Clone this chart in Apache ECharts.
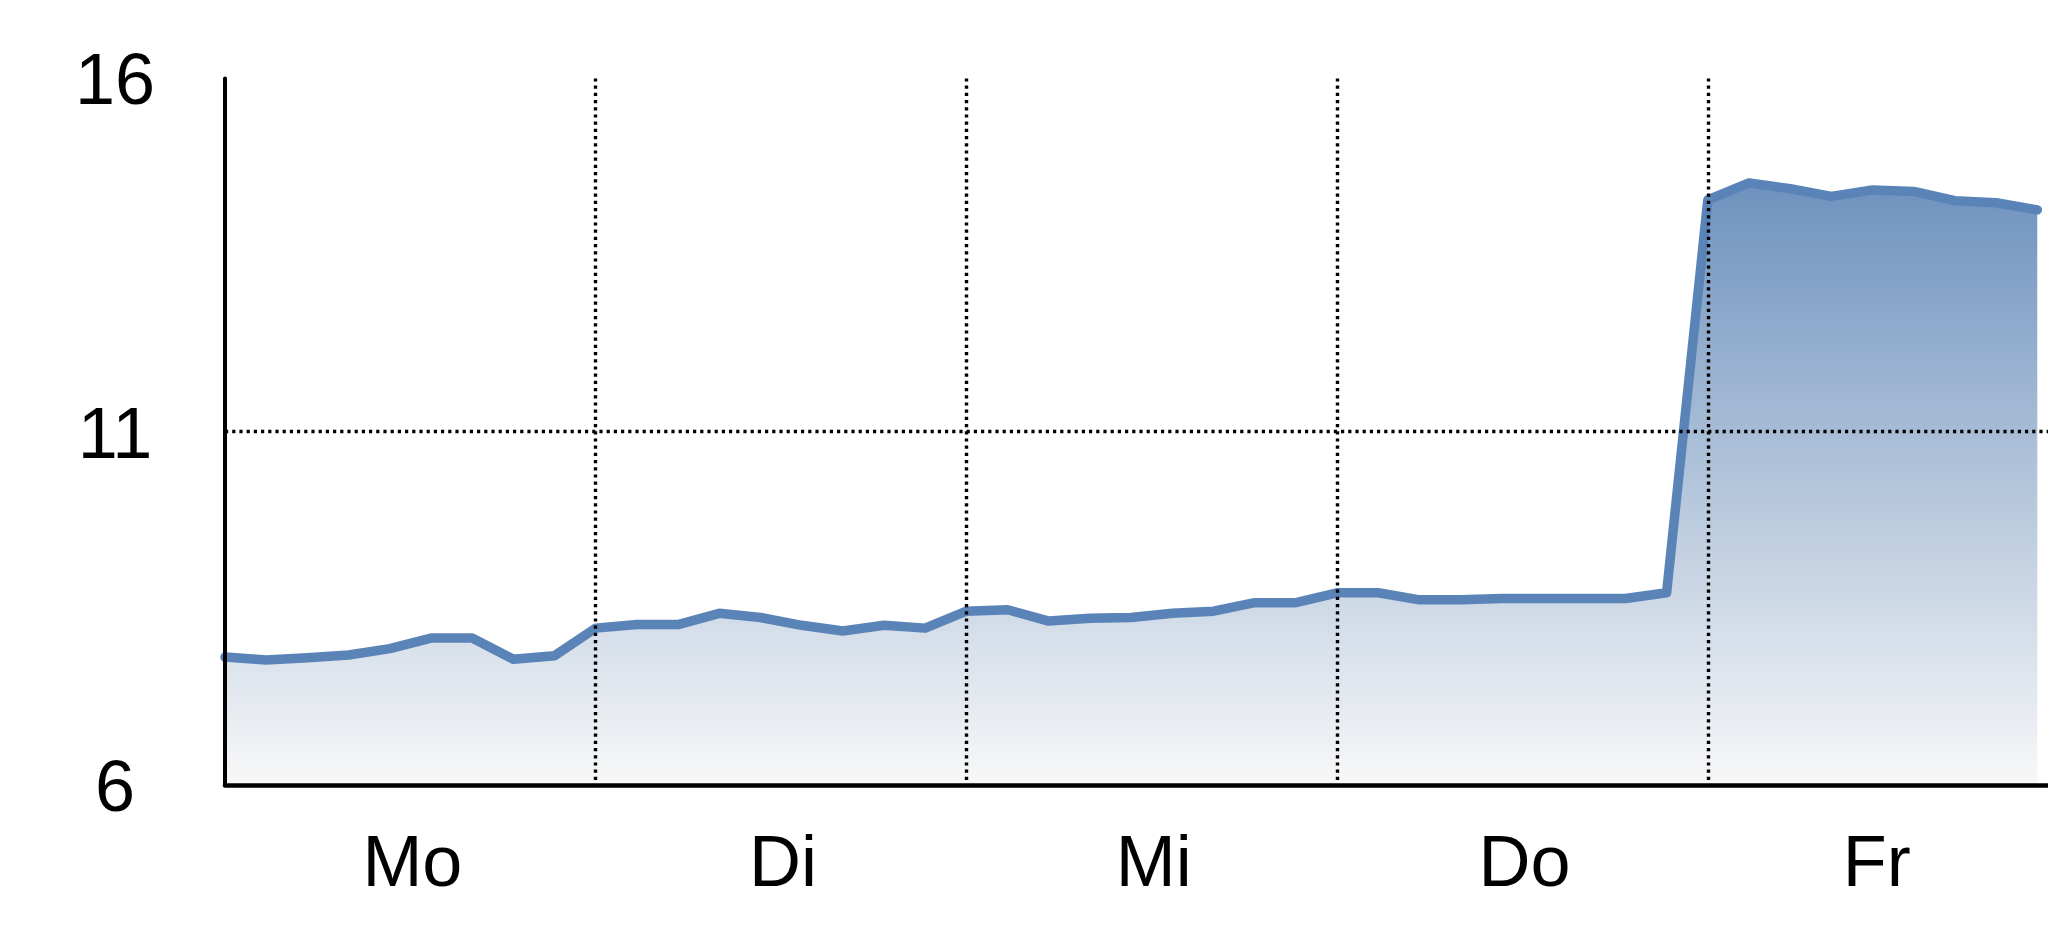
<!DOCTYPE html>
<html>
<head>
<meta charset="utf-8">
<script src="https://cdn.jsdelivr.net/npm/echarts@6/dist/echarts.min.js"></script>
<style>
html,body{margin:0;padding:0;background:#fff;}
#c{width:2048px;height:937px;}
</style>
</head>
<body>
<div id="c"></div>
<script>
const days = ['Mo', 'Di', 'Mi', 'Do', 'Fr'];
const dayLabelPos = [4.55, 13.55, 22.55, 31.55, 40.1];
const yTicks = [6, 11, 16];
const values = [
  7.81, 7.77, 7.80, 7.84, 7.93, 8.08, 8.08, 7.78, 7.83,
  8.22, 8.27, 8.27, 8.43, 8.37, 8.26, 8.18, 8.26, 8.22,
  8.46, 8.48, 8.32, 8.36, 8.37, 8.43, 8.46, 8.58, 8.58,
  8.72, 8.72, 8.62, 8.62, 8.64, 8.64, 8.64, 8.64, 8.72,
  14.28, 14.52, 14.44, 14.33, 14.42, 14.40, 14.27, 14.24, 14.14
];

const FONT = "'Liberation Sans', Arial, sans-serif";
const chart = echarts.init(document.getElementById('c'), null, { renderer: 'canvas', devicePixelRatio: 1 });
const dotted = { color: '#000', width: 3.4, type: [3.2, 4.0], cap: 'butt', opacity: 1 };

chart.setOption({
  backgroundColor: '#fff',
  animation: false,
  grid: { left: 225, right: 0, top: 78.4, bottom: 152, containLabel: false, outerBoundsMode: 'none' },
  xAxis: {
    type: 'value',
    min: 0,
    max: 44.26,
    interval: 9,
    z: 5,
    axisLine: { show: true, onZero: false, lineStyle: { color: '#000', width: 4.5 } },
    axisTick: { show: false },
    splitLine: { show: true, showMinLine: false, showMaxLine: false, lineStyle: dotted },
    axisLabel: {
      customValues: dayLabelPos,
      formatter: function (v) {
        const i = dayLabelPos.indexOf(v);
        return i >= 0 ? days[i] : '';
      },
      color: '#000',
      fontFamily: FONT,
      fontSize: 72,
      margin: 45
    }
  },
  yAxis: {
    type: 'value',
    min: yTicks[0],
    max: yTicks[yTicks.length - 1],
    interval: 5,
    z: 5,
    axisLine: { show: true, lineStyle: { color: '#000', width: 4 } },
    axisTick: { show: false },
    splitLine: { show: true, showMinLine: false, showMaxLine: false, lineStyle: dotted },
    axisLabel: {
      color: '#000',
      fontFamily: FONT,
      fontSize: 72,
      align: 'center',
      margin: 110,
      formatter: function (v) { return '{a|' + v + '}'; },
      rich: {
        a: { color: '#000', fontFamily: FONT, fontSize: 72, padding: [12, 0, 0, 0] }
      }
    }
  },
  series: [{
    type: 'line',
    z: 2,
    data: values.map(function (v, i) { return [i, v]; }),
    showSymbol: false,
    symbol: 'none',
    lineStyle: { color: '#5a84b8', width: 9.5, cap: 'round', join: 'round' },
    areaStyle: {
      opacity: 1,
      color: new echarts.graphic.LinearGradient(0, 0, 0, 1, [
        { offset: 0, color: '#6e92be' },
        { offset: 1, color: '#f8f8f8' }
      ])
    }
  }]
});
</script>
</body>
</html>
